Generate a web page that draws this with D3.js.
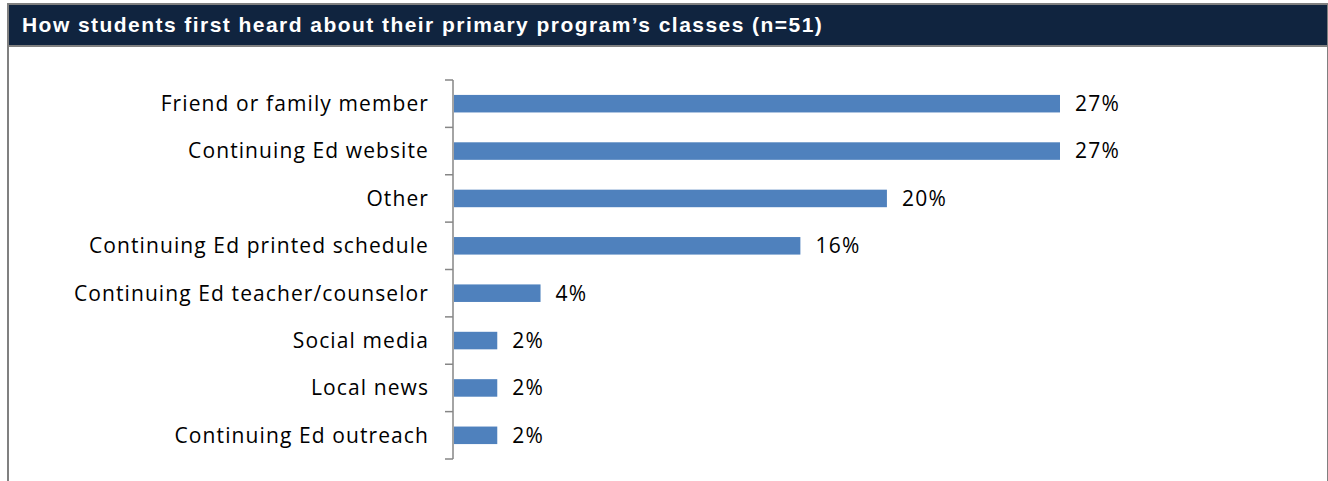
<!DOCTYPE html>
<html>
<head>
<meta charset="utf-8">
<script src="https://cdn.jsdelivr.net/npm/d3@7"></script>
<style>
  body { margin: 0; background: #fff; }
  svg { display: block; }
</style>
</head>
<body>
<svg id="chart"></svg>
<script>
const title = "How students first heard about their primary program\u2019s classes (n=51)";
const categories = [
  "Friend or family member",
  "Continuing Ed website",
  "Other",
  "Continuing Ed printed schedule",
  "Continuing Ed teacher/counselor",
  "Social media",
  "Local news",
  "Continuing Ed outreach"
];
const values = [27.45, 27.45, 19.61, 15.69, 3.92, 1.96, 1.96, 1.96];
const valueLabels = ["27%", "27%", "20%", "16%", "4%", "2%", "2%", "2%"];

let svgWidth = 1328, svgHeight = 481;
let axisX = 453, plotTop = 80, plotBottom = 459;

const svg = d3.select("#chart")
    .attr("width", svgWidth)
    .attr("height", svgHeight);

// frame and header
svg.append("rect")
    .attr("x", 8).attr("y", 4)
    .attr("width", 1319).attr("height", 42)
    .attr("fill", "#10243f");
svg.append("line")
    .attr("x1", 8).attr("x2", 1327).attr("y1", 4).attr("y2", 4)
    .attr("stroke", "#808080").attr("stroke-width", 2);
svg.append("line")
    .attr("x1", 8).attr("x2", 1327).attr("y1", 46).attr("y2", 46)
    .attr("stroke", "#808080").attr("stroke-width", 2);
svg.append("line")
    .attr("x1", 8).attr("x2", 8).attr("y1", 3).attr("y2", svgHeight)
    .attr("stroke", "#808080").attr("stroke-width", 2);
svg.append("line")
    .attr("x1", 1327.5).attr("x2", 1327.5).attr("y1", 3).attr("y2", svgHeight)
    .attr("stroke", "#808080").attr("stroke-width", 1);

svg.append("text")
    .attr("x", 22).attr("y", 32)
    .attr("font-family", "Liberation Sans, Arial, sans-serif")
    .attr("font-weight", "bold")
    .attr("font-size", 21)
    .attr("letter-spacing", "1.45px")
    .attr("fill", "#fff")
    .text(title);

const x = d3.scaleLinear()
    .domain([0, 27.45])
    .range([axisX + 1, 1060]);

const y = d3.scaleBand()
    .domain(categories)
    .range([plotTop, plotBottom])
    .paddingInner(0.63)
    .paddingOuter(0.315);

// axis with ticks between categories
const yAxis = d3.axisLeft(y).tickSize(0).tickFormat("");
const axisG = svg.append("g")
    .attr("transform", "translate(" + axisX + ",0)")
    .call(yAxis);
axisG.select(".domain").remove();
axisG.append("line")
    .attr("x1", 0).attr("x2", 0).attr("y1", plotTop).attr("y2", plotBottom)
    .attr("stroke", "#868686").attr("stroke-width", 1.5);
const step = (plotBottom - plotTop) / categories.length;
axisG.selectAll(".sep")
    .data(d3.range(categories.length + 1))
    .enter()
    .append("line")
    .attr("class", "sep")
    .attr("x1", -8).attr("x2", 0)
    .attr("y1", function(d) { return plotTop + d * step; })
    .attr("y2", function(d) { return plotTop + d * step; })
    .attr("stroke", "#868686").attr("stroke-width", 1.5);

svg.selectAll(".bar")
    .data(values)
    .enter()
    .append("rect")
    .attr("class", "bar")
    .attr("x", x(0))
    .attr("y", function(d, i) { return y(categories[i]); })
    .attr("width", function(d) { return x(d) - x(0); })
    .attr("height", y.bandwidth())
    .attr("fill", "#4f81bd");

svg.selectAll(".cat")
    .data(categories)
    .enter()
    .append("text")
    .attr("class", "cat")
    .attr("x", axisX - 24)
    .attr("y", function(d) { return y(d) + y.bandwidth() / 2; })
    .attr("dy", "0.35em")
    .attr("text-anchor", "end")
    .attr("font-family", "Open Sans, sans-serif")
    .attr("font-size", 21)
    .attr("letter-spacing", "1.1px")
    .attr("fill", "#000")
    .text(function(d) { return d; });

svg.selectAll(".val")
    .data(values)
    .enter()
    .append("text")
    .attr("class", "val")
    .attr("x", function(d) { return x(d) + 15; })
    .attr("y", function(d, i) { return y(categories[i]) + y.bandwidth() / 2; })
    .attr("dy", "0.35em")
    .attr("font-family", "Open Sans, sans-serif")
    .attr("font-size", 21)
    .attr("letter-spacing", "1.3px")
    .attr("fill", "#000")
    .text(function(d, i) { return valueLabels[i]; });
</script>
</body>
</html>
